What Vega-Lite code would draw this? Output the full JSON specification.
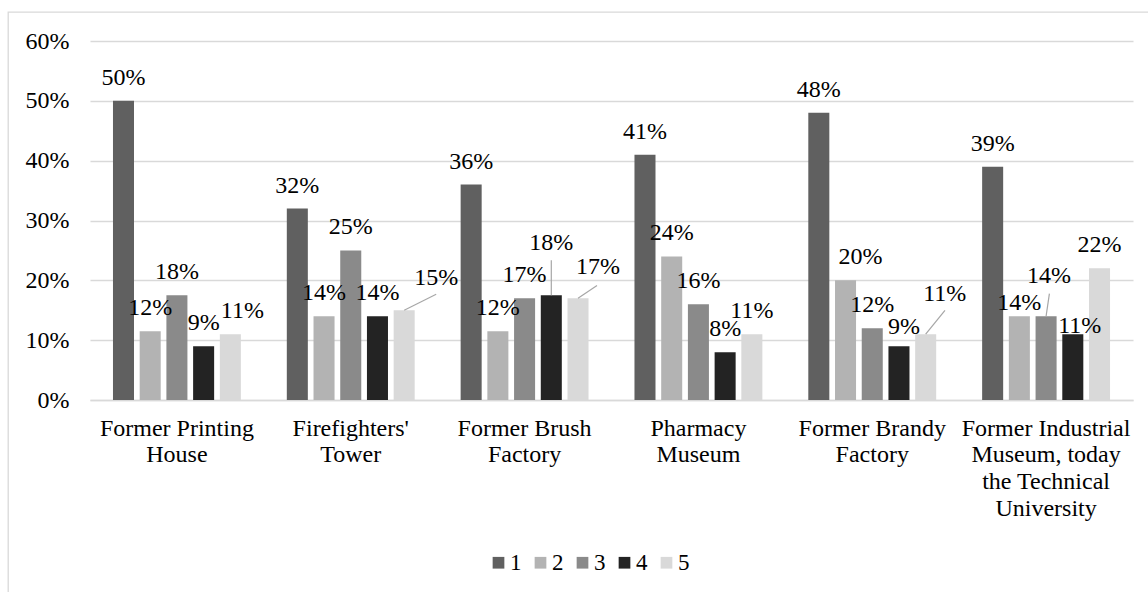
{
  "$schema": "https://vega.github.io/schema/vega-lite/v6.json",
  "autosize": {"type": "none"},
  "padding": {"left": 8, "top": 12, "right": -10, "bottom": -10},
  "width": 1150,
  "height": 590,
  "background": "#ffffff",
  "config": {
    "font": "Liberation Serif",
    "view": {"stroke": "#d9d9d9", "strokeWidth": 1.3},
    "axis": {"labelFont": "Liberation Serif", "labelColor": "#000000"},
    "legend": {"labelFont": "Liberation Serif", "labelColor": "#000000"}
  },
  "data": {
    "values": [
      {"place": "Former Printing House", "rating": "1", "value": 0.50},
      {"place": "Former Printing House", "rating": "2", "value": 0.115},
      {"place": "Former Printing House", "rating": "3", "value": 0.175},
      {"place": "Former Printing House", "rating": "4", "value": 0.09},
      {"place": "Former Printing House", "rating": "5", "value": 0.11},
      {"place": "Firefighters' Tower", "rating": "1", "value": 0.32},
      {"place": "Firefighters' Tower", "rating": "2", "value": 0.14},
      {"place": "Firefighters' Tower", "rating": "3", "value": 0.25},
      {"place": "Firefighters' Tower", "rating": "4", "value": 0.14},
      {"place": "Firefighters' Tower", "rating": "5", "value": 0.15},
      {"place": "Former Brush Factory", "rating": "1", "value": 0.36},
      {"place": "Former Brush Factory", "rating": "2", "value": 0.115},
      {"place": "Former Brush Factory", "rating": "3", "value": 0.17},
      {"place": "Former Brush Factory", "rating": "4", "value": 0.175},
      {"place": "Former Brush Factory", "rating": "5", "value": 0.17},
      {"place": "Pharmacy Museum", "rating": "1", "value": 0.41},
      {"place": "Pharmacy Museum", "rating": "2", "value": 0.24},
      {"place": "Pharmacy Museum", "rating": "3", "value": 0.16},
      {"place": "Pharmacy Museum", "rating": "4", "value": 0.08},
      {"place": "Pharmacy Museum", "rating": "5", "value": 0.11},
      {"place": "Former Brandy Factory", "rating": "1", "value": 0.48},
      {"place": "Former Brandy Factory", "rating": "2", "value": 0.20},
      {"place": "Former Brandy Factory", "rating": "3", "value": 0.12},
      {"place": "Former Brandy Factory", "rating": "4", "value": 0.09},
      {"place": "Former Brandy Factory", "rating": "5", "value": 0.11},
      {"place": "Former Industrial Museum, today the Technical University", "rating": "1", "value": 0.39},
      {"place": "Former Industrial Museum, today the Technical University", "rating": "2", "value": 0.14},
      {"place": "Former Industrial Museum, today the Technical University", "rating": "3", "value": 0.14},
      {"place": "Former Industrial Museum, today the Technical University", "rating": "4", "value": 0.11},
      {"place": "Former Industrial Museum, today the Technical University", "rating": "5", "value": 0.22}
    ]
  },
  "encoding": {
    "x": {
      "field": "place", "type": "nominal", "sort": null,
      "scale": {"range": [82, 1125], "paddingInner": 0, "paddingOuter": 0},
      "axis": {
        "title": null, "labelAngle": 0, "ticks": false,
        "domainColor": "#d9d9d9", "domainWidth": 1.3,
        "labelPadding": 16, "labelFontSize": 24, "labelLineHeight": 26.7,
        "labelLimit": 0, "offset": -202,
        "labelExpr": "datum.value == 'Former Printing House' ? ['Former Printing', 'House'] : indexof(datum.value, 'Firefighters') == 0 ? [\"Firefighters'\", 'Tower'] : datum.value == 'Former Brush Factory' ? ['Former Brush', 'Factory'] : datum.value == 'Pharmacy Museum' ? ['Pharmacy', 'Museum'] : datum.value == 'Former Brandy Factory' ? ['Former Brandy', 'Factory'] : ['Former Industrial', 'Museum, today', 'the Technical', 'University']"
      }
    },
    "xOffset": {"field": "rating", "type": "nominal", "scale": {"paddingInner": 0.213, "paddingOuter": 0.86}},
    "y": {
      "field": "value", "type": "quantitative",
      "scale": {"domain": [0, 0.6], "range": [388, 29], "nice": false},
      "axis": {
        "title": null, "values": [0, 0.1, 0.2, 0.3, 0.4, 0.5, 0.6], "format": ".0%",
        "domain": false, "ticks": false, "gridColor": "#d9d9d9", "gridWidth": 1.3,
        "labelPadding": 21, "labelFontSize": 24, "offset": -82
      }
    }
  },
  "layer": [
    {
      "mark": {"type": "bar"},
      "encoding": {
        "color": {
          "field": "rating", "type": "nominal",
          "scale": {"domain": ["1", "2", "3", "4", "5"], "range": ["#606060", "#b3b3b3", "#8a8a8a", "#232323", "#d9d9d9"]},
          "legend": {
            "orient": "none", "legendX": 479, "legendY": 539, "direction": "horizontal",
            "title": null, "symbolType": "square", "symbolSize": 137, "symbolStrokeWidth": 0,
            "labelFontSize": 23, "labelOffset": 0, "columnPadding": 7, "padding": 0
          }
        }
      }
    },
    {
      "transform": [{"filter": "indexof(['Former Printing House|5', \"Firefighters' Tower|5\", 'Former Brush Factory|4', 'Former Brush Factory|5', 'Former Brandy Factory|2', 'Former Brandy Factory|4', 'Former Brandy Factory|5', 'Former Industrial Museum, today the Technical University|2', 'Former Industrial Museum, today the Technical University|3', 'Former Industrial Museum, today the Technical University|4'], datum.place + '|' + datum.rating) < 0"}],
      "mark": {"type": "text", "dy": -23, "fontSize": 24, "baseline": "middle", "font": "Liberation Serif", "color": "#000000"},
      "encoding": {"text": {"field": "value", "format": ".0%"}}
    },
    {
      "transform": [{"filter": "datum.place + '|' + datum.rating == 'Former Printing House|5'"}],
      "mark": {"type": "text", "dx": 12, "dy": -23, "fontSize": 24, "baseline": "middle", "font": "Liberation Serif", "color": "#000000"},
      "encoding": {"text": {"field": "value", "format": ".0%"}}
    },
    {
      "transform": [{"filter": "indexof(datum.place, 'Firefighters') == 0 && datum.rating == '5'"}],
      "mark": {"type": "text", "dx": 32, "dy": -32, "fontSize": 24, "baseline": "middle", "font": "Liberation Serif", "color": "#000000"},
      "encoding": {"text": {"field": "value", "format": ".0%"}}
    },
    {
      "transform": [{"filter": "datum.place + '|' + datum.rating == 'Former Brush Factory|4'"}],
      "mark": {"type": "text", "dx": 0, "dy": -52, "fontSize": 24, "baseline": "middle", "font": "Liberation Serif", "color": "#000000"},
      "encoding": {"text": {"field": "value", "format": ".0%"}}
    },
    {
      "transform": [{"filter": "datum.place + '|' + datum.rating == 'Former Brush Factory|5'"}],
      "mark": {"type": "text", "dx": 20, "dy": -31, "fontSize": 24, "baseline": "middle", "font": "Liberation Serif", "color": "#000000"},
      "encoding": {"text": {"field": "value", "format": ".0%"}}
    },
    {
      "transform": [{"filter": "datum.place + '|' + datum.rating == 'Former Brandy Factory|2'"}],
      "mark": {"type": "text", "dx": 15, "dy": -23, "fontSize": 24, "baseline": "middle", "font": "Liberation Serif", "color": "#000000"},
      "encoding": {"text": {"field": "value", "format": ".0%"}}
    },
    {
      "transform": [{"filter": "datum.place + '|' + datum.rating == 'Former Brandy Factory|4'"}],
      "mark": {"type": "text", "dx": 5, "dy": -19, "fontSize": 24, "baseline": "middle", "font": "Liberation Serif", "color": "#000000"},
      "encoding": {"text": {"field": "value", "format": ".0%"}}
    },
    {
      "transform": [{"filter": "datum.place + '|' + datum.rating == 'Former Brandy Factory|5'"}],
      "mark": {"type": "text", "dx": 19, "dy": -40, "fontSize": 24, "baseline": "middle", "font": "Liberation Serif", "color": "#000000"},
      "encoding": {"text": {"field": "value", "format": ".0%"}}
    },
    {
      "transform": [{"filter": "datum.place + '|' + datum.rating == 'Former Industrial Museum, today the Technical University|2'"}],
      "mark": {"type": "text", "dx": 0, "dy": -13, "fontSize": 24, "baseline": "middle", "font": "Liberation Serif", "color": "#000000"},
      "encoding": {"text": {"field": "value", "format": ".0%"}}
    },
    {
      "transform": [{"filter": "datum.place + '|' + datum.rating == 'Former Industrial Museum, today the Technical University|3'"}],
      "mark": {"type": "text", "dx": 3, "dy": -40, "fontSize": 24, "baseline": "middle", "font": "Liberation Serif", "color": "#000000"},
      "encoding": {"text": {"field": "value", "format": ".0%"}}
    },
    {
      "transform": [{"filter": "datum.place + '|' + datum.rating == 'Former Industrial Museum, today the Technical University|4'"}],
      "mark": {"type": "text", "dx": 7, "dy": -8, "fontSize": 24, "baseline": "middle", "font": "Liberation Serif", "color": "#000000"},
      "encoding": {"text": {"field": "value", "format": ".0%"}}
    },
    {
      "transform": [{"filter": "indexof(datum.place, 'Firefighters') == 0 && datum.rating == '5'"}],
      "mark": {"type": "point", "shape": "M0,0L0.8,-0.4", "size": 6400, "filled": false, "color": "#a6a6a6", "strokeWidth": 1.2, "opacity": 1}
    },
    {
      "transform": [{"filter": "datum.place + '|' + datum.rating == 'Former Brush Factory|4'"}],
      "mark": {"type": "point", "shape": "M0,0L0,-0.875", "size": 6400, "filled": false, "color": "#a6a6a6", "strokeWidth": 1.2, "opacity": 1}
    },
    {
      "transform": [{"filter": "datum.place + '|' + datum.rating == 'Former Brush Factory|5'"}],
      "mark": {"type": "point", "shape": "M0,0L0.475,-0.317", "size": 6400, "filled": false, "color": "#a6a6a6", "strokeWidth": 1.2, "opacity": 1}
    },
    {
      "transform": [{"filter": "datum.place + '|' + datum.rating == 'Former Brandy Factory|5'"}],
      "mark": {"type": "point", "shape": "M0,0L0.483,-0.593", "size": 6400, "filled": false, "color": "#a6a6a6", "strokeWidth": 1.2, "opacity": 1}
    },
    {
      "transform": [{"filter": "datum.place + '|' + datum.rating == 'Former Industrial Museum, today the Technical University|3'"}],
      "mark": {"type": "point", "shape": "M0,0L0.083,-0.567", "size": 6400, "filled": false, "color": "#a6a6a6", "strokeWidth": 1.2, "opacity": 1}
    }
  ]
}
